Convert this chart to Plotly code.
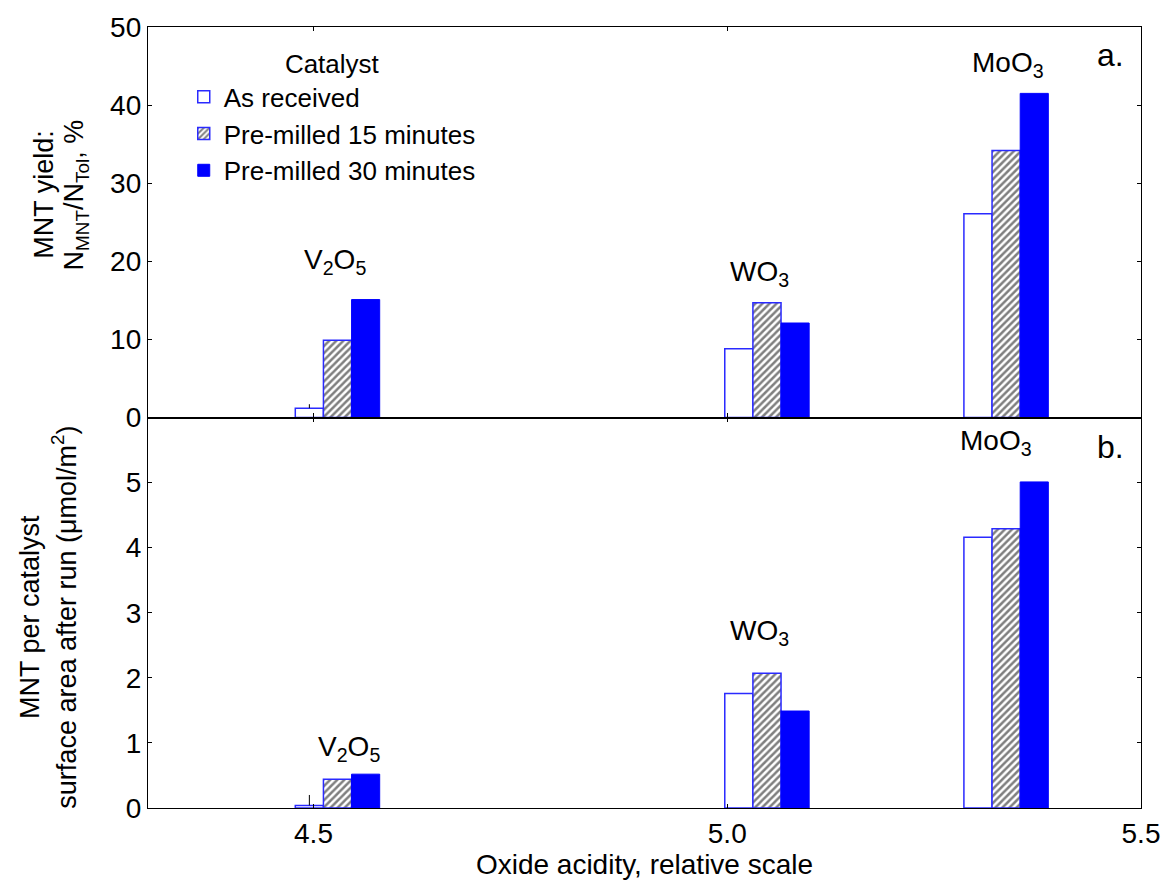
import plotly.graph_objects as go
from plotly.subplots import make_subplots

# ---- data ----
oxides = ["V<sub>2</sub>O<sub>5</sub>", "WO<sub>3</sub>", "MoO<sub>3</sub>"]
acidity = [4.529, 5.048, 5.337]          # group centres on the acidity scale
series_names = ["As received", "Pre-milled 15 minutes", "Pre-milled 30 minutes"]

yield_as_received = [1.2, 8.8, 26.1]
yield_pm15 = [9.9, 14.7, 34.2]
yield_pm30 = [15.1, 12.1, 41.5]
yield_err_as_received = [0.5, 0, 0]

surf_as_received = [0.04, 1.76, 4.16]
surf_pm15 = [0.44, 2.07, 4.29]
surf_pm30 = [0.52, 1.49, 5.01]
surf_err_as_received = [0.16, 0, 0]

# label positions (data coords)
label_a_x = [4.526, 5.039, 5.339]
label_a_y = [20.0, 18.4, 45.2]
label_b_x = [4.543, 5.039, 5.325]
label_b_y = [0.91, 2.69, 5.62]

ytick_a = [0, 10, 20, 30, 40, 50]
ytick_b = [0, 1, 2, 3, 4, 5]
xtick = [4.5, 5.0, 5.5]
xtick_text = ["4.5", "5.0", "5.5"]

ytitle_a = ["MNT yield:", "N<sub>MNT</sub>/N<sub>Tol</sub>, %"]
ytitle_b = ["MNT per catalyst", "surface area after run (μmol/m<sup>2</sup>)"]

# ---- styling ----
FONT = "Liberation Sans, Arial, sans-serif"
BLUE = "#0000ff"
EDGE = "#2a2aff"
W = 0.034
offsets = [-1.5 * W, -0.5 * W, 0.5 * W]

fig = make_subplots(rows=2, cols=1, shared_xaxes=True, vertical_spacing=0)

def add_panel(row, vals, err, showlegend):
    v0, v1, v2 = vals
    fig.add_trace(go.Bar(
        x=acidity, y=v0, width=W, offset=offsets[0], name=series_names[0],
        marker=dict(color="white", line=dict(color=EDGE, width=1.5)),
        error_y=dict(type="data", array=err, arrayminus=[0] * len(err), symmetric=False,
                     color="black", thickness=1, width=0, visible=True),
        showlegend=showlegend, legendgroup="a"), row=row, col=1)
    fig.add_trace(go.Bar(
        x=acidity, y=v1, width=W, offset=offsets[1], name=series_names[1],
        marker=dict(color="white", line=dict(color=EDGE, width=1.5),
                    pattern=dict(shape="/", fgcolor="black", bgcolor="white",
                                 size=5, solidity=0.5)),
        showlegend=showlegend, legendgroup="b"), row=row, col=1)
    fig.add_trace(go.Bar(
        x=acidity, y=v2, width=W, offset=offsets[2], name=series_names[2],
        marker=dict(color=BLUE, line=dict(color=BLUE, width=1)),
        showlegend=showlegend, legendgroup="c"), row=row, col=1)

add_panel(1, [yield_as_received, yield_pm15, yield_pm30], yield_err_as_received, True)
add_panel(2, [surf_as_received, surf_pm15, surf_pm30], surf_err_as_received, False)

axis_common = dict(showline=True, linecolor="black", linewidth=1.3, mirror="ticks",
                   ticks="inside", ticklen=4, tickcolor="black", showgrid=False,
                   zeroline=False, ticklabeloverflow="allow",
                   tickfont=dict(family=FONT, size=28, color="black"))

fig.update_xaxes(range=[4.3, 5.5], tickvals=xtick, ticktext=xtick_text, **axis_common)
fig.update_xaxes(showticklabels=False, row=1, col=1)
fig.update_xaxes(title=dict(text="Oxide acidity, relative scale",
                            font=dict(family=FONT, size=28, color="black"), standoff=0),
                 row=2, col=1)
fig.update_yaxes(range=[0, 50], tickvals=ytick_a, row=1, col=1, **axis_common)
fig.update_yaxes(range=[0, 6], tickvals=ytick_b, row=2, col=1, **axis_common)

annotations = []
for txt, x, y in zip(oxides, label_a_x, label_a_y):
    annotations.append(dict(text=txt, x=x, y=y, xref="x", yref="y", showarrow=False,
                            font=dict(family=FONT, size=28, color="black")))
for txt, x, y in zip(oxides, label_b_x, label_b_y):
    annotations.append(dict(text=txt, x=x, y=y, xref="x2", yref="y2", showarrow=False,
                            font=dict(family=FONT, size=28, color="black")))
annotations.append(dict(text="a.", x=5.463, y=46.4, xref="x", yref="y", showarrow=False,
                        font=dict(family=FONT, size=32, color="black")))
annotations.append(dict(text="b.", x=5.463, y=5.55, xref="x2", yref="y2", showarrow=False,
                        font=dict(family=FONT, size=32, color="black")))
for txt, x in zip(ytitle_a, [-0.1055, -0.0726]):
    annotations.append(dict(text=txt, x=x, y=0.7855, xref="paper", yref="paper",
                            textangle=-90, showarrow=False, xanchor="center",
                            yanchor="middle", font=dict(family=FONT, size=27, color="black")))
for txt, x in zip(ytitle_b, [-0.1194, -0.0846]):
    annotations.append(dict(text=txt, x=x, y=0.245, xref="paper", yref="paper",
                            textangle=-90, showarrow=False, xanchor="center",
                            yanchor="middle", font=dict(family=FONT, size=27, color="black")))

fig.update_layout(
    width=1172, height=880,
    margin=dict(l=148, r=19, t=22, b=70),
    paper_bgcolor="white", plot_bgcolor="white",
    barmode="overlay",
    annotations=annotations,
    legend=dict(x=0.036, y=0.984, xanchor="left", yanchor="top",
                bgcolor="rgba(0,0,0,0)",
                font=dict(family=FONT, size=26, color="black"),
                title=dict(text="Catalyst", side="top center",
                           font=dict(family=FONT, size=26, color="black")),
                tracegroupgap=0, itemwidth=30),
    font=dict(family=FONT, color="black"),
)

fig.write_html("out.html")
